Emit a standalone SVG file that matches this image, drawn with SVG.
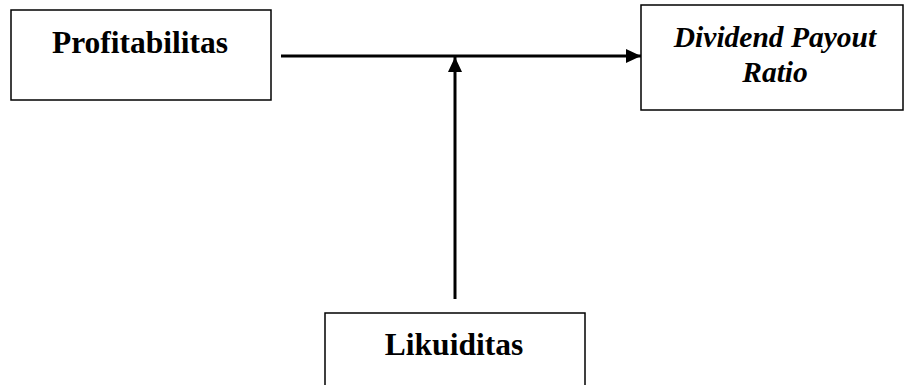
<svg xmlns="http://www.w3.org/2000/svg" width="906" height="385" viewBox="0 0 906 385">
<style>
.box{fill:#fff;stroke:#000;stroke-width:1.5}
.lbl{font-family:"Liberation Serif","Times New Roman",serif;font-weight:bold;font-size:31.5px;fill:#000;text-anchor:middle}
.it{font-style:italic;font-size:29.5px}
.con{stroke:#000;stroke-width:3;fill:none}
</style>
<defs>
<marker id="ah" markerUnits="userSpaceOnUse" markerWidth="15" markerHeight="14" refX="15" refY="7" orient="auto">
<path d="M0,0 L15,7 L0,14 Z" fill="#000"/>
</marker>
</defs>
<rect width="906" height="385" fill="#fff"/>
<g id="profitabilitas">
<rect class="box" x="11" y="10" width="260" height="90"/>
<text class="lbl" x="140" y="53">Profitabilitas</text>
</g>
<g id="dpr">
<rect class="box" x="641" y="5" width="262" height="105"/>
<text class="lbl it" x="775" y="47">Dividend Payout</text>
<text class="lbl it" x="775" y="82">Ratio</text>
</g>
<g id="likuiditas">
<rect class="box" x="325" y="313" width="260" height="80"/>
<text class="lbl" x="454" y="355">Likuiditas</text>
</g>
<g id="connectors">
<line class="con" x1="281" y1="56" x2="641" y2="56" marker-end="url(#ah)"/>
<line class="con" x1="455" y1="299" x2="455" y2="57" marker-end="url(#ah)"/>
</g>
</svg>
